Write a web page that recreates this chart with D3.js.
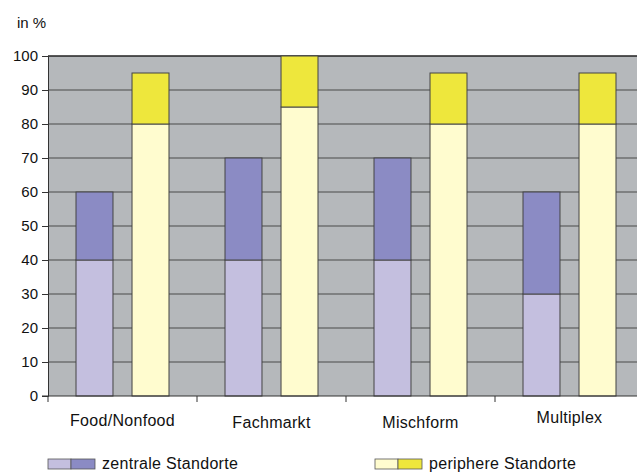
<!DOCTYPE html>
<html><head><meta charset="utf-8">
<script src="https://cdn.jsdelivr.net/npm/d3@7"></script>
<style>body{margin:0;background:#fff}svg{display:block}text{font-family:"Liberation Sans",Arial,sans-serif;fill:#111}</style>
</head><body>
<svg id="c" width="637" height="473"></svg>
<script>
const categories = ["Food/Nonfood","Fachmarkt","Mischform","Multiplex"];
const zentralLower = [40,40,40,30];
const zentralTotal = [60,70,70,60];
const periphLower = [80,85,80,80];
const periphTotal = [95,100,95,95];
const yTicks = [0,10,20,30,40,50,60,70,80,90,100];
const series = ["zentral","peripher"];
const legendLabels = ["zentrale Standorte","periphere Standorte"];

const colors = {zentral:["#c4bfdf","#8b8bc4"], peripher:["#fffccf","#eee73c"]};
const svg = d3.select("#c");
const pL=48, pR=644, pT=56, pB=396;
const x = d3.scaleBand().domain(categories).range([pL,pR]);
const xs = d3.scaleBand().domain(series).range([0,x.bandwidth()]).paddingInner(0.34).paddingOuter(0.5);
const y = d3.scaleLinear().domain([0,100]).range([pB,pT]);

svg.append("rect").attr("x",pL).attr("y",pT).attr("width",pR-pL).attr("height",pB-pT).attr("fill","#b5b8bb");
// grid
svg.append("g").selectAll("line").data(yTicks.filter(d=>d>0)).join("line")
  .attr("x1",pL).attr("x2",pR).attr("y1",d=>y(d)).attr("y2",d=>y(d))
  .attr("stroke",d=>d===100?"#222":"#4a4a4a").attr("stroke-width",d=>d===100?1.4:1.1);

const data = categories.map((c,i)=>({c, z:[zentralLower[i],zentralTotal[i]], p:[periphLower[i],periphTotal[i]]}));
const g = svg.append("g");
data.forEach(d=>{
  [["zentral",d.z],["peripher",d.p]].forEach(([s,v])=>{
    const bx = x(d.c)+xs(s);
    g.append("rect").attr("x",bx).attr("width",xs.bandwidth()).attr("y",y(v[0])).attr("height",y(0)-y(v[0]))
      .attr("fill",colors[s][0]).attr("stroke","#444").attr("stroke-width",1);
    g.append("rect").attr("x",bx).attr("width",xs.bandwidth()).attr("y",y(v[1])).attr("height",y(v[0])-y(v[1]))
      .attr("fill",colors[s][1]).attr("stroke","#444").attr("stroke-width",1);
  });
});

// y axis
const ya = svg.append("g").attr("transform",`translate(${pL},0)`)
  .call(d3.axisLeft(y).tickValues(yTicks).tickSize(6).tickPadding(4));
ya.select(".domain").attr("stroke","#333");
ya.selectAll(".tick line").attr("stroke","#333");
ya.selectAll("text").style("font-size","15px").attr("fill","#111");

// x axis
const xa = svg.append("g").attr("transform",`translate(0,${pB})`)
  .call(d3.axisBottom(x).tickSize(0).tickPadding(22));
xa.select(".domain").remove();
xa.selectAll("text").style("font-size","16px").style("letter-spacing","0.3px").attr("fill","#111")
  .attr("dy",(d,i)=>i===3?"0.3em":i===0?"0.5em":"0.65em");
svg.append("line").attr("x1",pL-6).attr("x2",pR).attr("y1",pB).attr("y2",pB).attr("stroke","#333").attr("stroke-width",1.2);
svg.append("g").selectAll("line").data(categories).join("line")
  .attr("x1",d=>x(d)).attr("x2",d=>x(d)).attr("y1",pB).attr("y2",pB+6).attr("stroke","#333");

svg.append("text").attr("x",17).attr("y",28).style("font-size","15px").text("in %");

// legend
const lx=[48,375];
series.forEach((s,i)=>{
  const lg = svg.append("g").attr("transform",`translate(${lx[i]},459)`);
  lg.append("rect").attr("x",0).attr("y",0).attr("width",23).attr("height",10).attr("fill",colors[s][0]).attr("stroke","#555").attr("stroke-width",0.8);
  lg.append("rect").attr("x",23).attr("y",0).attr("width",24).attr("height",10).attr("fill",colors[s][1]).attr("stroke","#555").attr("stroke-width",0.8);
  lg.append("text").attr("x",54).attr("y",10).style("font-size","16px").style("letter-spacing","0.3px").text(legendLabels[i]);
});
</script>
</body></html>
